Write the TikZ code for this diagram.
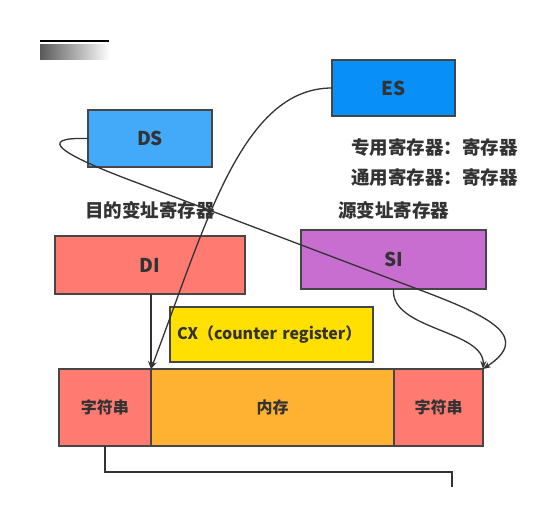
\documentclass[tikz,border=0pt]{standalone}
\usepackage{fontspec}
\setmainfont{Noto Sans CJK SC}
\usetikzlibrary{arrows.meta,positioning}

\definecolor{ink}{RGB}{51,51,51}
\definecolor{edge}{RGB}{70,70,70}
\definecolor{dsblue}{RGB}{66,170,248}
\definecolor{esblue}{RGB}{8,143,248}
\definecolor{salmon}{RGB}{255,122,112}
\definecolor{orchid}{RGB}{200,110,208}
\definecolor{cxyellow}{RGB}{255,224,0}
\definecolor{memorange}{RGB}{255,178,50}

\begin{document}
\begin{tikzpicture}[x=1pt,y=-1pt,
	reg/.style={draw=edge, line width=1.4pt, outer sep=0pt, text=ink, font=\fontsize{16}{19}\selectfont\bfseries},
	bigreg/.style={reg, font=\fontsize{19}{22}\selectfont\bfseries},
	note/.style={anchor=west, inner sep=0pt, text=ink, font=\fontsize{18.5}{22}\selectfont\bfseries},
	wire/.style={draw=ink, line width=1.3pt},
	link/.style={wire, -{Stealth[length=8pt,width=6pt]}}]
	\useasboundingbox (0,0) rectangle (558,528);
	\fill[white] (0,0) rectangle (558,528);
	% slide header mark
	\draw[line width=2pt] (40,41) -- (109,41);
	\shade[left color=black!65, right color=white] (40,44) rectangle (110,59);
	% registers
	\node[bigreg, fill=dsblue, minimum width=124pt, minimum height=57pt] (ds) at (150,138.5) {DS};
	\node[bigreg, fill=esblue, minimum width=123pt, minimum height=56pt] (es) at (393.5,88) {ES};
	\node[bigreg, fill=salmon, minimum width=190pt, minimum height=58pt] (di) at (150,265) {DI};
	\node[bigreg, fill=orchid, minimum width=185pt, minimum height=59pt] (si) at (393.5,259.5) {SI};
	\node[reg, fill=cxyellow, minimum width=203pt, minimum height=55pt, text width=189pt, inner xsep=7pt, align=left] (cx) at (271.5,334.5) {CX（counter register）};
	\node[note] (special) at (351,147) {专用寄存器：寄存器};
	\node[note] (general) at (351,177) {通用寄存器：寄存器};
	\node[note] (srcidx) at (338,210) {源变址寄存器};
	\node[note] (dstidx) at (85,210) {目的变址寄存器};
	% memory row
	\node[reg, fill=salmon, minimum width=92pt, minimum height=77pt] (strL) at (105,407.5) {字符串};
	\node[reg, fill=memorange, minimum width=243pt, minimum height=77pt, right=0pt of strL] (mem) {内存};
	\node[reg, fill=salmon, minimum width=89pt, minimum height=77pt, right=0pt of mem] (strR) {字符串};
	% pointers
	\draw[link] (di.south -| mem.north west) -- (mem.north west);
	\draw[link] (es.west) .. controls +(-90,0) and +(55,-145) .. (mem.north west);
	\draw[link] (ds.west) .. controls +(-53,-1.5) and +(-75,-28) .. (135,182) -- (420,290)
		.. controls +(75,28) and +(47,-31) .. (strR.north east);
	\draw[link] (si.south) .. controls +(-3.5,41) and +(2,-39) .. (strR.north east);
	\coordinate (cut) at (452,487);
	\draw[wire] (strL.south) -- ++(0,26) -| (cut);
\end{tikzpicture}
\end{document}
